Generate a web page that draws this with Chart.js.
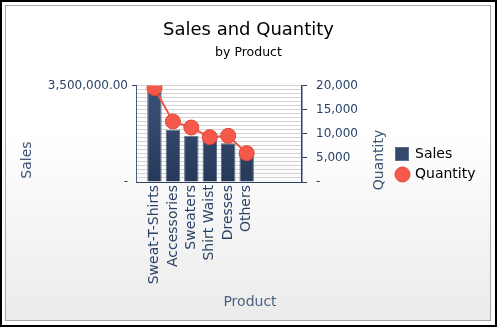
<!DOCTYPE html>
<html>
<head>
<meta charset="utf-8">
<script src="https://cdn.jsdelivr.net/npm/chart.js@4/dist/chart.umd.min.js"></script>
<style>
  html, body { margin: 0; padding: 0; background: #fff; }
  #frame { position: absolute; left: 0; top: 0; width: 497px; height: 327px; box-sizing: border-box; border: 2px solid #000; background: #fff; }
  #inner { position: absolute; left: 5px; top: 5px; width: 486px; height: 316px; box-sizing: border-box; border: 1px solid #a8a8a8;
           background: linear-gradient(to bottom, #ffffff 0%, #ffffff 40%, #ebebeb 100%); }
  #c { position: absolute; left: 0; top: 0; }
</style>
</head>
<body>
<div id="frame"></div>
<div id="inner"></div>
<canvas id="c" width="497" height="327"></canvas>
<script>
// ---- data ----
const categories = ['Sweat-T-Shirts', 'Accessories', 'Sweaters', 'Shirt Waist', 'Dresses', 'Others'];
const sales = [3280000, 1900000, 1680000, 1570000, 1410000, 1000000];
const quantity = [19500, 12550, 11300, 9300, 9580, 5980];
const salesMax = 3500000;
const quantityTicks = [0, 5000, 10000, 15000, 20000];
const salesTitle = 'Sales';
const quantityTitle = 'Quantity';
const productTitle = 'Product';

const FONT = "'DejaVu Sans', Verdana, sans-serif";
const AXIS_TEXT = '#2b4366';
const AXIS_LINE = '#2c4263';
const BAR_BORDER = '#5d6f8c';
const POINT_FILL = '#f6594a';
const POINT_BORDER = '#dc4636';

function barGradient(ctx) {
  const chart = ctx.chart;
  const area = chart.chartArea;
  if (!area) return '#33486b';
  const g = chart.ctx.createLinearGradient(0, area.top, 0, area.bottom);
  g.addColorStop(0, '#3b5277');
  g.addColorStop(1, '#27395a');
  return g;
}

const extras = {
  id: 'extras',
  afterDraw(chart) {
    const c = chart.ctx;
    c.save();
    // axis titles
    c.font = '14px ' + FONT;
    c.textAlign = 'center';
    c.textBaseline = 'middle';
    c.fillStyle = '#3a5273';
    c.save(); c.translate(27, 160); c.rotate(-Math.PI / 2); c.fillText(salesTitle, 0, 0); c.restore();
    c.save(); c.translate(379, 160); c.rotate(-Math.PI / 2); c.fillText(quantityTitle, 0, 0); c.restore();
    c.fillStyle = '#4a6283';
    c.fillText(productTitle, 250, 302);
    // legend
    const ds = chart.data.datasets;
    c.textAlign = 'left';
    c.fillStyle = '#33486b';
    c.fillRect(395.5, 147.5, 13, 13);
    c.strokeStyle = BAR_BORDER; c.lineWidth = 1;
    c.strokeRect(395.5, 147.5, 13, 13);
    c.fillStyle = '#000';
    c.fillText(ds[0].label, 415, 154);
    c.beginPath(); c.arc(402.5, 174.5, 7.5, 0, Math.PI * 2);
    c.fillStyle = POINT_FILL; c.fill();
    c.strokeStyle = POINT_BORDER; c.stroke();
    c.fillStyle = '#000';
    c.fillText(ds[1].label, 415, 174);
    c.restore();
  }
};

Chart.defaults.font.family = FONT;

new Chart(document.getElementById('c'), {
  type: 'bar',
  data: {
    datasets: [
      {
        type: 'bar',
        label: 'Sales',
        data: sales.map((v, i) => ({ x: i + 1, y: v })),
        yAxisID: 'y',
        backgroundColor: barGradient,
        borderColor: BAR_BORDER,
        borderWidth: 1,
        barPercentage: 0.98,
        categoryPercentage: 0.8,
        order: 2
      },
      {
        type: 'line',
        label: 'Quantity',
        data: quantity.map((v, i) => ({ x: i + 1, y: v })),
        yAxisID: 'y1',
        borderColor: '#f05848',
        borderWidth: 2,
        pointRadius: 7.5,
        pointBackgroundColor: POINT_FILL,
        pointBorderColor: POINT_BORDER,
        pointBorderWidth: 1,
        fill: false,
        tension: 0,
        order: 1
      }
    ]
  },
  options: {
    responsive: false,
    animation: false,
    devicePixelRatio: 1,
    layout: { padding: 0 },
    plugins: {
      legend: { display: false },
      tooltip: { enabled: false },
      title: {
        display: true,
        text: 'Sales and Quantity',
        color: '#000',
        font: { size: 18, weight: 'normal', family: FONT },
        padding: { top: 20, bottom: 3 }
      },
      subtitle: {
        display: true,
        text: 'by Product',
        color: '#000',
        font: { size: 12.5, weight: 'normal', family: FONT },
        padding: { top: 1, bottom: 25 }
      }
    },
    scales: {
      x: {
        type: 'linear',
        offset: false,
        min: 0,
        max: categories.length + 3,
        afterBuildTicks(scale) { scale.ticks = categories.map((c, i) => ({ value: i + 1 })); },
        afterFit(scale) { scale.height = 145; },
        ticks: {
          autoSkip: false,
          maxRotation: 90,
          minRotation: 90,
          padding: 3,
          color: AXIS_TEXT,
          font: { size: 14 },
          callback: (v) => categories[v - 1] || ''
        },
        grid: { drawOnChartArea: false, drawTicks: false },
        border: { color: AXIS_LINE, width: 1 }
      },
      y: {
        position: 'left',
        min: 0,
        max: salesMax,
        afterBuildTicks(scale) {
          const t = [];
          for (let i = 0; i <= 24; i++) t.push({ value: salesMax * i / 24 });
          scale.ticks = t;
        },
        afterFit(scale) { scale.width = 136; },
        ticks: {
          autoSkip: false,
          color: AXIS_TEXT,
          font: { size: 12 },
          padding: 4,
          callback: (v) => v === 0 ? '-' : (Math.abs(v - salesMax) < 1 ? '3,500,000.00' : '')
        },
        grid: {
          color: '#d4d4d4',
          tickLength: 4,
          tickColor: (ctx) => (ctx.tick && Math.abs(ctx.tick.value - salesMax) < 1) ? AXIS_LINE : 'rgba(0,0,0,0)'
        },
        border: { color: '#4a5c78', width: 1 }
      },
      y1: {
        position: 'right',
        min: 0,
        max: 20000,
        afterBuildTicks(scale) { scale.ticks = quantityTicks.map(v => ({ value: v })); },
        afterFit(scale) { scale.width = 195; },
        ticks: {
          autoSkip: false,
          color: AXIS_TEXT,
          font: { size: 12 },
          padding: 9,
          callback: (v) => v === 0 ? '-' : v.toLocaleString('en-US')
        },
        grid: { drawOnChartArea: false, tickLength: 5, color: AXIS_LINE },
        border: { color: AXIS_LINE, width: 1.5 }
      }
    }
  },
  plugins: [extras]
});
</script>
</body>
</html>
